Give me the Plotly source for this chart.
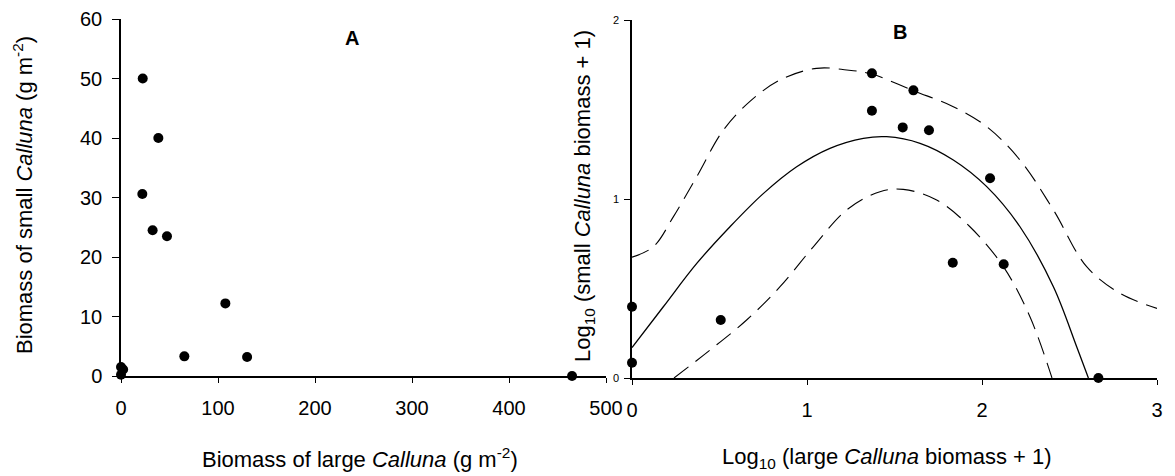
import plotly.graph_objects as go

# Panel A: raw biomass (g m-2)
a_large = [22.4, 38.5, 22.0, 32.6, 47.4, 107.6, 65.3, 130.0, 0.0, 2.2, 0.0, 465.0]
a_small = [50.0, 40.0, 30.6, 24.5, 23.5, 12.2, 3.3, 3.2, 1.5, 1.1, 0.2, 0.0]

# Panel B: log10(biomass + 1)
b_large = [1.371, 1.608, 1.371, 1.547, 1.697, 2.046, 1.833, 2.124, 0.0, 0.507, 0.0, 2.665]
b_small = [1.702, 1.607, 1.493, 1.400, 1.384, 1.116, 0.644, 0.635, 0.398, 0.324, 0.085, 0.0]

# Fitted curve and confidence bands
fit_x = [0.0, 0.179, 0.37, 0.56, 0.75, 0.941, 1.131, 1.322, 1.455, 1.646, 1.836, 2.027, 2.217, 2.408, 2.541, 2.608]
fit_y = [0.17, 0.398, 0.64, 0.845, 1.03, 1.18, 1.283, 1.339, 1.348, 1.311, 1.218, 1.069, 0.845, 0.51, 0.175, 0.0]
up_x = [0.0, 0.122, 0.236, 0.37, 0.522, 0.674, 0.846, 1.055, 1.227, 1.37, 1.608, 1.836, 2.027, 2.217, 2.408, 2.598, 2.789, 3.0]
up_y = [0.675, 0.733, 0.9, 1.125, 1.385, 1.545, 1.665, 1.73, 1.721, 1.698, 1.605, 1.516, 1.404, 1.218, 0.939, 0.622, 0.473, 0.389]
lo_x = [0.24, 0.446, 0.655, 0.846, 1.036, 1.227, 1.417, 1.55, 1.741, 1.931, 2.122, 2.274, 2.40]
lo_y = [0.0, 0.156, 0.324, 0.51, 0.733, 0.939, 1.041, 1.054, 0.994, 0.845, 0.622, 0.342, 0.0]

a_xticks = [0, 100, 200, 300, 400, 500]
a_yticks = [0, 10, 20, 30, 40, 50, 60]
b_xticks = [0, 1, 2, 3]
b_yticks = [0, 1, 2]

W, H = 1175, 476
FONT = "Liberation Sans, Arial, sans-serif"

fig = go.Figure()
fig.add_trace(go.Scatter(x=a_large, y=a_small, mode="markers",
                         marker=dict(color="black", size=10),
                         xaxis="x", yaxis="y", cliponaxis=False, showlegend=False))
fig.add_trace(go.Scatter(x=fit_x, y=fit_y, mode="lines", line=dict(color="black", width=1.3, shape="spline"),
                         xaxis="x2", yaxis="y2", showlegend=False, cliponaxis=False))
fig.add_trace(go.Scatter(x=up_x, y=up_y, mode="lines",
                         line=dict(color="black", width=1.1, dash="18px,9px", shape="spline"),
                         xaxis="x2", yaxis="y2", showlegend=False, cliponaxis=False))
fig.add_trace(go.Scatter(x=lo_x, y=lo_y, mode="lines",
                         line=dict(color="black", width=1.1, dash="18px,9px", shape="spline"),
                         xaxis="x2", yaxis="y2", showlegend=False, cliponaxis=False))
fig.add_trace(go.Scatter(x=b_large, y=b_small, mode="markers",
                         marker=dict(color="black", size=10),
                         xaxis="x2", yaxis="y2", cliponaxis=False, showlegend=False))

axis_common = dict(showline=True, linecolor="black", linewidth=1.5, showgrid=False,
                   zeroline=False, ticks="outside", tickcolor="black", tickwidth=1.2,
                   automargin=False)

fig.update_layout(
    width=W, height=H,
    margin=dict(l=0, r=0, t=0, b=0, autoexpand=False),
    paper_bgcolor="white", plot_bgcolor="white",
    font=dict(family=FONT, color="black"),
    xaxis=dict(domain=[121 / W, 606 / W], range=[0, 500], tickvals=a_xticks,
               ticklen=5, ticklabelstandoff=8, tickfont=dict(size=20),
               anchor="y", **axis_common),
    yaxis=dict(domain=[(H - 376) / H, (H - 19) / H], range=[0, 60], tickvals=a_yticks,
               ticklen=7, ticklabelstandoff=6, tickfont=dict(size=20),
               anchor="x", **axis_common),
    xaxis2=dict(domain=[632 / W, 1157 / W], range=[0, 3], tickvals=b_xticks,
                ticklen=5, ticklabelstandoff=8, tickfont=dict(size=20),
                anchor="y2", **axis_common),
    yaxis2=dict(domain=[(H - 378) / H, (H - 20) / H], range=[0, 2], tickvals=b_yticks,
                ticklen=6, ticklabelstandoff=3, tickfont=dict(size=11),
                anchor="x2", **axis_common),
)

def ann(text, x, y, size, angle=0, bold=False):
    fig.add_annotation(text=f"<b>{text}</b>" if bold else text,
                       x=x / W, y=1 - y / H, xref="paper", yref="paper",
                       showarrow=False, textangle=angle,
                       font=dict(size=size, family=FONT, color="black"),
                       xanchor="center", yanchor="middle")

ann("Biomass of small <i>Calluna</i> (g m<sup>-2</sup>)", 23, 195, 22, angle=-90)
ann("Biomass of large <i>Calluna</i> (g m<sup>-2</sup>)", 360, 458, 22)
ann("Log<sub>10</sub> (small <i>Calluna</i> biomass + 1)", 584, 196, 22, angle=-90)
ann("Log<sub>10</sub> (large <i>Calluna</i> biomass + 1)", 887, 458, 22)
ann("A", 352, 38, 20, bold=True)
ann("B", 900, 32, 20, bold=True)

fig.write_html("out.html")
